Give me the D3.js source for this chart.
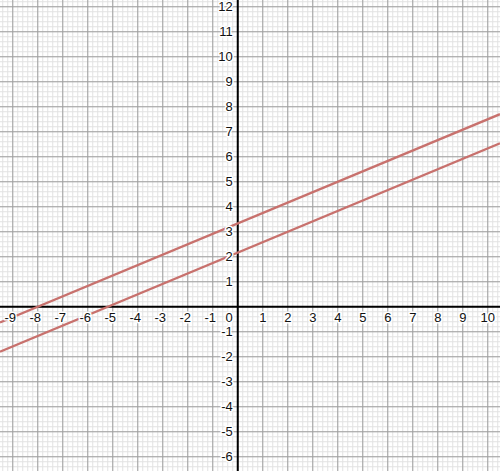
<!DOCTYPE html>
<html>
<head>
<meta charset="utf-8">
<script src="https://cdn.jsdelivr.net/npm/d3@7"></script>
<style>
  body { margin: 0; background: #fff; }
  svg { display: block; }
  .lbl { font-family: "Liberation Sans", Arial, sans-serif; font-size: 13px; fill: #111;
         stroke: #fff; stroke-width: 3px; paint-order: stroke; stroke-linejoin: round; }
</style>
</head>
<body>
<svg id="chart" width="500" height="471"></svg>
<script>
// visible window of the graph
const xDomain = [-9.51, 10.49];
const yDomain = [-6.57, 12.27];

// tick labels
const xTicks = [-9, -8, -7, -6, -5, -4, -3, -2, -1, 1, 2, 3, 4, 5, 6, 7, 8, 9, 10];
const yTicks = [-6, -5, -4, -3, -2, -1, 1, 2, 3, 4, 5, 6, 7, 8, 9, 10, 11, 12];

// the two parallel lines: y = slope * x + intercept
const slopes = [5 / 12, 5 / 12];
const intercepts = [10 / 3, 13 / 6];

const width = 500, height = 471;
const svg = d3.select("#chart");

const x = d3.scaleLinear().domain(xDomain).range([0, width]);
const y = d3.scaleLinear().domain(yDomain).range([height, 0]);

// minor grid every 0.2, major every 1
const minorX = d3.range(Math.ceil(xDomain[0] * 5), Math.floor(xDomain[1] * 5) + 1).map(d => d / 5);
const minorY = d3.range(Math.ceil(yDomain[0] * 5), Math.floor(yDomain[1] * 5) + 1).map(d => d / 5);
const majorX = minorX.filter(d => Math.abs(d - Math.round(d)) < 1e-9);
const majorY = minorY.filter(d => Math.abs(d - Math.round(d)) < 1e-9);

const grid = svg.append("g");
grid.selectAll(".mx").data(minorX).enter().append("line")
  .attr("x1", d => x(d)).attr("x2", d => x(d)).attr("y1", 0).attr("y2", height)
  .style("stroke", "#e2e2e2").style("stroke-width", 1);
grid.selectAll(".my").data(minorY).enter().append("line")
  .attr("y1", d => y(d)).attr("y2", d => y(d)).attr("x1", 0).attr("x2", width)
  .style("stroke", "#e2e2e2").style("stroke-width", 1);
grid.selectAll(".Mx").data(majorX).enter().append("line")
  .attr("x1", d => x(d)).attr("x2", d => x(d)).attr("y1", 0).attr("y2", height)
  .style("stroke", "#a0a0a0").style("stroke-width", 1);
grid.selectAll(".My").data(majorY).enter().append("line")
  .attr("y1", d => y(d)).attr("y2", d => y(d)).attr("x1", 0).attr("x2", width)
  .style("stroke", "#a0a0a0").style("stroke-width", 1);

// axes
svg.append("line").attr("x1", 0).attr("x2", width).attr("y1", y(0)).attr("y2", y(0))
  .style("stroke", "#000").style("stroke-width", 2);
svg.append("line").attr("x1", x(0)).attr("x2", x(0)).attr("y1", 0).attr("y2", height)
  .style("stroke", "#000").style("stroke-width", 2);

// lines
const lineGen = d3.line().x(d => x(d[0])).y(d => y(d[1]));
svg.selectAll(".graph").data(slopes).enter().append("path")
  .attr("class", "graph")
  .attr("d", (m, i) => lineGen(xDomain.map(v => [v, m * v + intercepts[i]])))
  .style("fill", "none")
  .style("stroke", "#c8716d")
  .style("stroke-width", 2.3);

// labels
svg.selectAll(".xl").data(xTicks).enter().append("text")
  .attr("class", "lbl")
  .attr("x", d => x(d) - (d < 0 ? 2.5 : 0))
  .attr("y", y(0) + 15.5)
  .attr("text-anchor", "middle")
  .text(d => d);

svg.selectAll(".yl").data(yTicks).enter().append("text")
  .attr("class", "lbl")
  .attr("x", x(0) - 5)
  .attr("y", d => y(d) + 4.5)
  .attr("text-anchor", "end")
  .text(d => d);

svg.append("text").attr("class", "lbl")
  .attr("x", x(0) - 5).attr("y", y(0) + 15.5)
  .attr("text-anchor", "end")
  .text(0);
</script>
</body>
</html>
